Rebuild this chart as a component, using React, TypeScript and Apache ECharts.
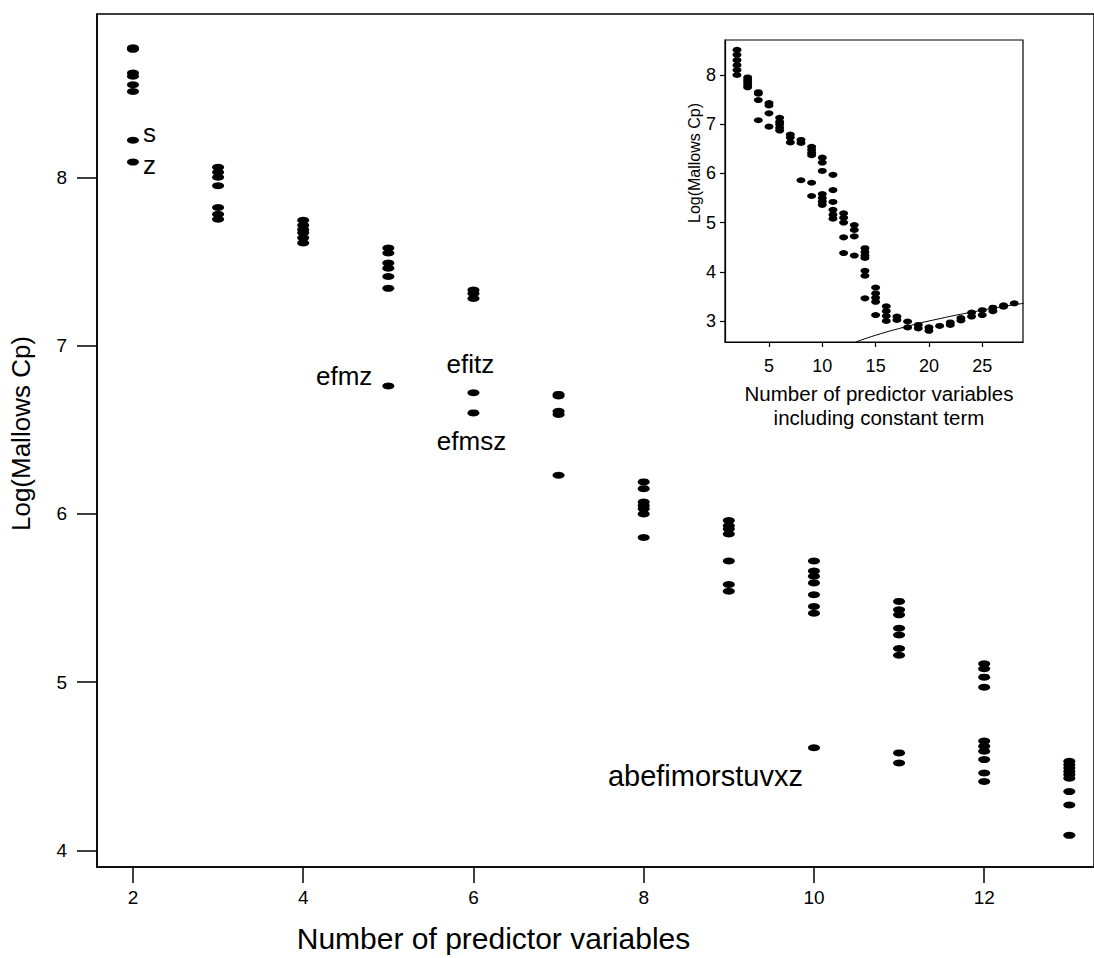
import React, { useEffect, useRef } from "react";
import * as echarts from "echarts";

// ---------- Main plot data ----------
const mainP = [2, 3, 4, 5, 6, 7, 8, 9, 10, 11, 12, 13];
const mainCp: number[][] = [
  [8.77, 8.76, 8.62, 8.6, 8.55, 8.51],
  [8.06, 8.03, 8.0, 7.95, 7.82, 7.78, 7.75],
  [7.745, 7.715, 7.69, 7.67, 7.64, 7.61],
  [7.58, 7.55, 7.49, 7.46, 7.41, 7.34],
  [7.33, 7.31, 7.28],
  [6.71, 6.7, 6.61, 6.59, 6.23],
  [6.19, 6.15, 6.07, 6.05, 6.03, 6.0, 5.86],
  [5.96, 5.93, 5.91, 5.88, 5.72, 5.58, 5.54],
  [5.72, 5.66, 5.63, 5.59, 5.52, 5.45, 5.41],
  [5.48, 5.43, 5.4, 5.32, 5.28, 5.2, 5.16, 4.58, 4.52],
  [5.11, 5.08, 5.03, 4.97, 4.65, 4.62, 4.59, 4.54, 4.46, 4.41],
  [4.53, 4.51, 4.49, 4.47, 4.45, 4.43, 4.35, 4.27, 4.09],
];
const labeledP = [2, 2, 5, 6, 6, 10];
const labeledCp = [8.22, 8.09, 6.76, 6.72, 6.6, 4.61];
const labeledText = ["s", "z", "efmz", "efitz", "efmsz", "abefimorstuvxz"];
const mainYTicks = [4, 5, 6, 7, 8];
const mainXTicks = [2, 4, 6, 8, 10, 12];

// ---------- Inset data ----------
const insetP = [2, 3, 4, 5, 6, 7, 8, 9, 10, 11, 12, 13, 14, 15, 16, 17, 18, 19, 20, 21, 22, 23, 24, 25, 26, 27, 28];
const insetCp: number[][] = [
  [8.51, 8.41, 8.3, 8.2, 8.1, 8.0],
  [7.95, 7.9, 7.85, 7.8, 7.75],
  [7.65, 7.62, 7.49, 7.08],
  [7.43, 7.38, 7.22, 6.95],
  [7.13, 7.05, 7.0, 6.93, 6.87],
  [6.79, 6.73, 6.63],
  [6.68, 6.62, 5.86],
  [6.54, 6.48, 6.42, 6.37, 5.81, 5.54],
  [6.32, 6.22, 6.05, 5.58, 5.5, 5.43, 5.36],
  [5.97, 5.66, 5.42, 5.26, 5.16, 5.08],
  [5.19, 5.1, 5.0, 4.7, 4.38],
  [4.95, 4.85, 4.72, 4.33],
  [4.48, 4.4, 4.33, 4.28, 4.02, 3.92, 3.46],
  [3.68, 3.56, 3.47, 3.39, 3.12],
  [3.3, 3.2, 3.1, 3.0],
  [3.09, 3.02],
  [2.99, 2.87],
  [2.92, 2.85],
  [2.87, 2.8],
  [2.9],
  [2.97, 2.92],
  [3.06, 3.01],
  [3.17, 3.09],
  [3.22, 3.12],
  [3.27, 3.2],
  [3.32, 3.29],
  [3.36],
];
const refLineP = [13.1, 15, 17.6, 20, 25, 28.9];
const refLineCp = [2.57, 2.71, 2.87, 3.0, 3.22, 3.36];
const insetYTicks = [3, 4, 5, 6, 7, 8];
const insetXTicks = [5, 10, 15, 20, 25];

const FONT = "'Liberation Sans', Arial, Helvetica, sans-serif";

function pairs(xs: number[], cols: number[][]) {
  const out: number[][] = [];
  xs.forEach((x, i) => cols[i].forEach((v) => out.push([x, v])));
  return out;
}

export default function App() {
  const ref = useRef<HTMLDivElement>(null);
  useEffect(() => {
    if (!ref.current) return;
    const chart = echarts.init(ref.current, null, { renderer: "svg" });

    const labelCfg: any[] = [
      { position: "right", distance: 4, offset: [0, -7], fontSize: 26 },
      { position: "right", distance: 4, offset: [0, 3], fontSize: 26 },
      { position: "left", distance: 10, offset: [0, -10], fontSize: 26 },
      { position: "top", distance: 12, offset: [-3, 0], fontSize: 26 },
      { position: "bottom", distance: 12, offset: [-2, 0], fontSize: 26 },
      { position: "left", distance: 5, offset: [0, 28], fontSize: 29 },
    ];

    const option: any = {
      animation: false,
      backgroundColor: "#fff",
      textStyle: { fontFamily: FONT, color: "#000" },
      grid: [
        {
          left: 97,
          top: 14,
          width: 998,
          height: 853,
          show: true,
          borderColor: "#000",
          borderWidth: 1.5,
          backgroundColor: "transparent",
        },
        {
          left: 725,
          top: 40,
          width: 298,
          height: 302,
          show: true,
          borderColor: "#000",
          borderWidth: 1.2,
          backgroundColor: "#fff",
        },
      ],
      xAxis: [
        {
          type: "value",
          gridIndex: 0,
          min: 1.5775,
          max: 13.29,
          splitLine: { show: false },
          axisLine: { show: true, onZero: false, lineStyle: { color: "#000", width: 1.5 } },
          axisTick: { show: true, inside: false, length: 16, customValues: mainXTicks, lineStyle: { color: "#000", width: 1.5 } },
          axisLabel: { customValues: mainXTicks, margin: 21, fontSize: 19, color: "#000", fontFamily: FONT },
          name: "Number of predictor variables",
          nameLocation: "middle",
          nameGap: 56,
          nameTextStyle: { fontSize: 30, color: "#000", fontFamily: FONT, padding: [0, 204, 0, 0] },
        },
        {
          type: "value",
          gridIndex: 1,
          min: 0.874,
          max: 28.82,
          splitLine: { show: false },
          axisLine: { show: true, onZero: false, lineStyle: { color: "#000", width: 1.2 } },
          axisTick: { show: true, inside: false, length: 5, customValues: insetXTicks, lineStyle: { color: "#000", width: 1.2 } },
          axisLabel: { customValues: insetXTicks, margin: 15, fontSize: 18, color: "#000", fontFamily: FONT },
          name: "Number of predictor variables\nincluding constant term",
          nameLocation: "middle",
          nameGap: 39,
          nameTextStyle: { fontSize: 20.5, lineHeight: 24, color: "#000", fontFamily: FONT, verticalAlign: "top", padding: [0, 0, 0, 10] },
        },
      ],
      yAxis: [
        {
          type: "value",
          gridIndex: 0,
          min: 3.902,
          max: 8.97,
          splitLine: { show: false },
          axisLine: { show: true, onZero: false, lineStyle: { color: "#000", width: 1.5 } },
          axisTick: { show: true, inside: false, length: 20, customValues: mainYTicks, lineStyle: { color: "#000", width: 1.5 } },
          axisLabel: { customValues: mainYTicks, margin: 30, fontSize: 19, color: "#000", fontFamily: FONT },
          name: "Log(Mallows Cp)",
          nameLocation: "middle",
          nameGap: 63,
          nameTextStyle: { fontSize: 26, color: "#000", fontFamily: FONT, padding: [0, 0, 0, 14] },
        },
        {
          type: "value",
          gridIndex: 1,
          min: 2.573,
          max: 8.711,
          splitLine: { show: false },
          axisLine: { show: true, onZero: false, lineStyle: { color: "#000", width: 1.2 } },
          axisTick: { show: true, inside: false, length: 5, customValues: insetYTicks, lineStyle: { color: "#000", width: 1.2 } },
          axisLabel: { customValues: insetYTicks, margin: 9, fontSize: 18, color: "#000", fontFamily: FONT },
          name: "Log(Mallows Cp)",
          nameLocation: "middle",
          nameGap: 20,
          nameTextStyle: { fontSize: 16, color: "#000", fontFamily: FONT, padding: [0, 0, 0, 56] },
        },
      ],
      series: [
        {
          type: "scatter",
          xAxisIndex: 0,
          yAxisIndex: 0,
          symbol: "circle",
          symbolSize: [12, 7],
          itemStyle: { color: "#000", opacity: 1 },
          data: pairs(mainP, mainCp),
        },
        {
          type: "scatter",
          xAxisIndex: 0,
          yAxisIndex: 0,
          symbol: "circle",
          symbolSize: [12, 7],
          itemStyle: { color: "#000", opacity: 1 },
          data: labeledP.map((x, i) => ({
            value: [x, labeledCp[i]],
            label: {
              show: true,
              formatter: labeledText[i],
              color: "#000",
              fontFamily: FONT,
              ...labelCfg[i],
            },
          })),
        },
        {
          type: "scatter",
          xAxisIndex: 1,
          yAxisIndex: 1,
          symbol: "circle",
          symbolSize: [9, 6],
          itemStyle: { color: "#000", opacity: 1 },
          data: pairs(insetP, insetCp),
        },
        {
          type: "line",
          xAxisIndex: 1,
          yAxisIndex: 1,
          showSymbol: false,
          symbol: "none",
          smooth: true,
          clip: true,
          lineStyle: { color: "#000", width: 1 },
          data: refLineP.map((x, i) => [x, refLineCp[i]]),
        },
      ],
    };
    chart.setOption(option);
    return () => chart.dispose();
  }, []);

  return (
    <div
      ref={ref}
      style={{ position: "fixed", left: 0, top: 0, width: 1094, height: 958, background: "#fff" }}
    />
  );
}
